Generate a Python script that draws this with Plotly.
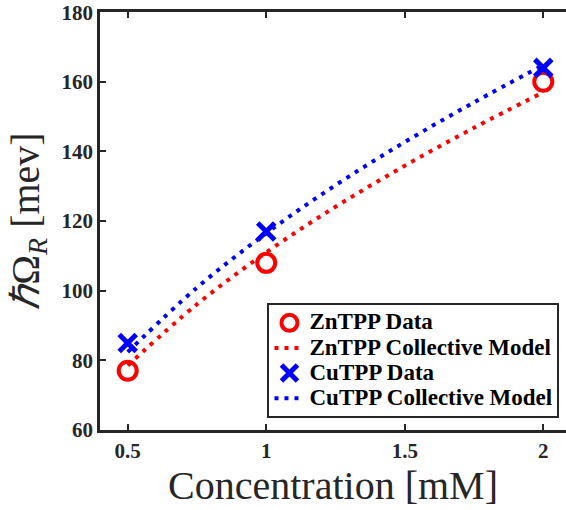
import plotly.graph_objects as go

# Data
conc = [0.5, 1.0, 2.0]
zn_data = [77, 108, 160]
cu_data = [85, 117, 164]

model_conc = [0.5, 0.75, 1.0, 1.25, 1.5, 1.75, 2.0]
zn_model = [78.5, 96.1, 111.0, 124.1, 135.9, 146.8, 157.0]
cu_model = [82.4, 100.9, 116.5, 130.3, 142.7, 154.1, 164.8]

x_ticks = [0.5, 1, 1.5, 2]
x_ticklabels = ["0.5", "1", "1.5", "2"]
y_ticks = [60, 80, 100, 120, 140, 160, 180]
y_ticklabels = ["60", "80", "100", "120", "140", "160", "180"]

RED = "#FF0000"
BLUE = "#0000FF"
AX = "#262626"
SERIF = "Times New Roman"

def bold(s):
    return "<b>" + s + "</b>"

def leg(s):
    return '<span style="font-size:23px"><b>' + s + '</b></span>'

fig = go.Figure()

fig.add_trace(go.Scatter(
    x=model_conc, y=zn_model, mode="lines", name=leg("ZnTPP Collective Model"),
    line=dict(color=RED, width=4, dash="4px,6px", shape="spline"), legendrank=2))
fig.add_trace(go.Scatter(
    x=model_conc, y=cu_model, mode="lines", name=leg("CuTPP Collective Model"),
    line=dict(color=BLUE, width=4, dash="4px,6px", shape="spline"), legendrank=4))
fig.add_trace(go.Scatter(
    x=conc, y=zn_data, mode="markers", name=leg("ZnTPP Data"),
    marker=dict(symbol="circle-open", size=18, color=RED, line=dict(width=4, color=RED)),
    legendrank=1))
fig.add_trace(go.Scatter(
    x=conc, y=cu_data, mode="markers", name=leg("CuTPP Data"),
    marker=dict(symbol="x-thin-open", size=17, color=BLUE, line=dict(width=5, color=BLUE)),
    legendrank=3))

axis_common = dict(
    showline=True, linecolor=AX, linewidth=2.5,
    ticks="inside", ticklen=6, tickwidth=2, tickcolor=AX,
    showgrid=False, zeroline=False,
    tickfont=dict(family=SERIF, size=21, color=AX),
)

fig.update_layout(
    width=566, height=510,
    margin=dict(l=100, r=0, t=12, b=80),
    paper_bgcolor="white", plot_bgcolor="white",
    font=dict(family=SERIF),
    xaxis=dict(
        range=[0.4, 2.082], tickvals=x_ticks, ticktext=[bold(t) for t in x_ticklabels],
        mirror="ticks",
        title=dict(text="Concentration [mM]", font=dict(family=SERIF, size=40, color=AX), standoff=0),
        **axis_common),
    yaxis=dict(
        range=[60, 180.05], tickvals=y_ticks, ticktext=[bold(t) for t in y_ticklabels], mirror=False,
        title=dict(text="<i>ℏ</i>Ω<sub><i>R</i></sub> [mev]",
                   font=dict(family=SERIF, size=40, color=AX), standoff=10),
        **axis_common),
    legend=dict(
        x=0.986, y=0.028, xanchor="right", yanchor="bottom",
        bgcolor="white", bordercolor=AX, borderwidth=2,
        font=dict(family=SERIF, size=17, color="black"),
        tracegroupgap=0,
    ),
    showlegend=True,
)

fig.write_html("out.html")
